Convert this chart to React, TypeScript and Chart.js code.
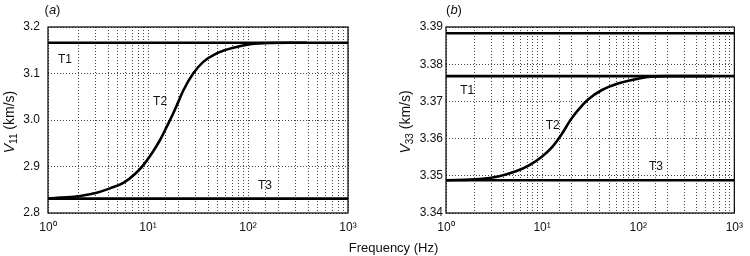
import React, { useEffect, useRef } from 'react';
import { Chart, registerables } from 'chart.js';

Chart.register(...registerables);

const FONT = '"Liberation Sans", Arial, Helvetica, sans-serif';

// ---------- shared ----------
const freqRange = [1, 1000];
const curveNames = ['T1', 'T2', 'T3'];
const xAxisTitle = 'Frequency (Hz)';
const yUnit = ' (km/s)';

// ---------- panel (a) ----------
const yRangeA = [2.8, 3.2];
const yStepA = 0.1;
const t1A = [3.166, 3.166];
const t3A = [2.831, 2.831];
const freqT2A = [1, 1.32, 2.09, 3.07, 4.17, 5.67, 7.41, 8.98, 10.9, 13.2, 15.4, 17.9, 20.1, 22.6, 28.4, 35.7, 48.6, 71.3, 105, 166, 260, 390];
const velT2A = [2.831, 2.833, 2.8366, 2.8437, 2.853, 2.865, 2.884, 2.903, 2.928, 2.957, 2.9856, 3.0144, 3.039, 3.064, 3.1004, 3.125, 3.1434, 3.1555, 3.1628, 3.1656, 3.166, 3.166];
const labelFreqA = [1.48, 13.2, 148];
const labelVelA = [3.1305, 3.039, 2.858];

// ---------- panel (b) ----------
const yRangeB = [3.34, 3.39];
const yStepB = 0.01;
const topLineB = [3.3883, 3.3883];
const t1B = [3.3768, 3.3768];
const t3B = [3.3488, 3.3488];
const freqT2B = [1, 2.24, 3.59, 5.33, 7.31, 10.0, 12.7, 16.1, 19.6, 23.9, 30.3, 41.5, 61.7, 91.6, 126, 200, 590];
const velT2B = [3.3488, 3.3491, 3.3499, 3.3512, 3.3528, 3.3552, 3.3577, 3.3613, 3.3649, 3.3678, 3.3706, 3.373, 3.3748, 3.3759, 3.3766, 3.3768, 3.3768];
const labelFreqB = [1.66, 12.9, 153];
const labelVelB = [3.3728, 3.3636, 3.3524];

const SUP: Record<string, string> = { '0': '⁰', '1': '¹', '2': '²', '3': '³' };

function decadeLabel(value: number): string {
  const e = Math.log10(value);
  const r = Math.round(e);
  if (Math.abs(e - r) < 1e-9) return '10' + String(r).split('').map((c) => SUP[c] ?? c).join('');
  return '';
}

function pts(xs: number[], ys: number[]) {
  return xs.map((x, i) => ({ x, y: ys[i] }));
}

type PanelCfg = {
  tag: string;
  tagX: number;
  sub: string;
  yTitleX: number;
  yWidth: number;
  padRight: number;
  yPad: number;
  yRange: number[];
  yStep: number;
  yDecimals: number;
  lines: { f: number[]; v: number[]; smooth?: boolean }[];
  labelFreq: number[];
  labelVel: number[];
};

function makeDecor(cfg: PanelCfg) {
  return {
    id: 'decor' + cfg.tag,
    afterDraw(chart: any) {
      const { ctx, chartArea: a, scales } = chart;
      ctx.save();
      // frame
      ctx.setLineDash([]);
      ctx.strokeStyle = '#000';
      ctx.lineWidth = 1.2;
      ctx.strokeRect(a.left, a.top, a.right - a.left, a.bottom - a.top);
      // curve labels
      ctx.fillStyle = '#111';
      ctx.font = `12px ${FONT}`;
      ctx.textAlign = 'center';
      ctx.textBaseline = 'middle';
      curveNames.forEach((t, i) => {
        ctx.fillText(t, scales.x.getPixelForValue(cfg.labelFreq[i]), scales.y.getPixelForValue(cfg.labelVel[i]));
      });
      // panel tag "(a)"
      const parts = [
        { t: '(', f: `13px ${FONT}` },
        { t: cfg.tag, f: `italic 13px ${FONT}` },
        { t: ')', f: `13px ${FONT}` },
      ];
      ctx.textAlign = 'left';
      let w = 0;
      parts.forEach((p) => { ctx.font = p.f; w += ctx.measureText(p.t).width; });
      let x = cfg.tagX - w / 2;
      parts.forEach((p) => { ctx.font = p.f; ctx.fillText(p.t, x, 10); x += ctx.measureText(p.t).width; });
      // y title
      const yparts = [
        { t: 'V', f: `italic 14px ${FONT}`, dy: 0 },
        { t: cfg.sub, f: `10px ${FONT}`, dy: 4 },
        { t: yUnit, f: `14px ${FONT}`, dy: 0 },
      ];
      let tw = 0;
      yparts.forEach((p) => { ctx.font = p.f; tw += ctx.measureText(p.t).width; });
      ctx.translate(cfg.yTitleX, (a.top + a.bottom) / 2 + 2);
      ctx.rotate(-Math.PI / 2);
      ctx.textBaseline = 'middle';
      let px = -tw / 2;
      yparts.forEach((p) => { ctx.font = p.f; ctx.fillText(p.t, px, p.dy); px += ctx.measureText(p.t).width; });
      ctx.restore();
    },
  };
}

function Panel({ cfg }: { cfg: PanelCfg }) {
  const ref = useRef<HTMLCanvasElement>(null);
  useEffect(() => {
    if (!ref.current) return;
    const chart = new Chart(ref.current, {
      type: 'scatter',
      data: {
        datasets: cfg.lines.map((l) => ({
          data: pts(l.f, l.v),
          showLine: true,
          borderColor: '#000',
          backgroundColor: '#000',
          borderWidth: 2.6,
          pointRadius: 0,
          fill: false,
          cubicInterpolationMode: l.smooth ? 'monotone' : 'default',
        })),
      },
      options: {
        responsive: false,
        animation: false,
        events: [],
        layout: { padding: { left: 0, right: cfg.padRight, top: 27, bottom: 0 } },
        plugins: { legend: { display: false }, tooltip: { enabled: false }, title: { display: false } },
        scales: {
          x: {
            type: 'logarithmic',
            min: freqRange[0],
            max: freqRange[1],
            afterFit: (s: any) => { s.height = 43; },
            grid: { color: '#444', lineWidth: 1, drawTicks: false },
            border: { display: false, dash: [1, 2] },
            ticks: {
              autoSkip: false,
              maxRotation: 0,
              padding: 7,
              color: '#111',
              font: { family: FONT, size: 12 },
              callback: (v: any) => decadeLabel(Number(v)),
            },
          },
          y: {
            type: 'linear',
            min: cfg.yRange[0],
            max: cfg.yRange[1],
            afterFit: (s: any) => { s.width = cfg.yWidth; },
            grid: { color: '#444', lineWidth: 1, drawTicks: false },
            border: { display: false, dash: [1, 2] },
            ticks: {
              stepSize: cfg.yStep,
              padding: cfg.yPad,
              color: '#111',
              font: { family: FONT, size: 12 },
              callback: (v: any) => Number(v).toFixed(cfg.yDecimals),
            },
          },
        },
      } as any,
      plugins: [makeDecor(cfg)],
    });
    return () => chart.destroy();
  }, [cfg]);
  return <canvas ref={ref} width={375} height={256} style={{ display: 'block', width: 375, height: 256 }} />;
}

const cfgA: PanelCfg = {
  tag: 'a',
  tagX: 52.5,
  sub: '11',
  yTitleX: 10,
  yWidth: 48,
  padRight: 27,
  yPad: 8,
  yRange: yRangeA,
  yStep: yStepA,
  yDecimals: 1,
  lines: [
    { f: freqRange, v: t1A },
    { f: freqRange, v: t3A },
    { f: freqT2A, v: velT2A, smooth: true },
  ],
  labelFreq: labelFreqA,
  labelVel: labelVelA,
};

const cfgB: PanelCfg = {
  tag: 'b',
  tagX: 79,
  sub: '33',
  yTitleX: 31,
  yWidth: 71,
  padRight: 12,
  yPad: 3,
  yRange: yRangeB,
  yStep: yStepB,
  yDecimals: 2,
  lines: [
    { f: freqRange, v: topLineB },
    { f: freqRange, v: t1B },
    { f: freqRange, v: t3B },
    { f: freqT2B, v: velT2B, smooth: true },
  ],
  labelFreq: labelFreqB,
  labelVel: labelVelB,
};

export default function App() {
  return (
    <div style={{ position: 'absolute', left: 0, top: 0, width: 750, height: 256, background: '#fff', overflow: 'hidden' }}>
      <div style={{ position: 'absolute', left: 0, top: 0 }}>
        <Panel cfg={cfgA} />
      </div>
      <div style={{ position: 'absolute', left: 375, top: 0 }}>
        <Panel cfg={cfgB} />
      </div>
      <div
        style={{
          position: 'absolute',
          left: 0,
          top: 240,
          width: 787,
          textAlign: 'center',
          font: `13px ${FONT}`,
          lineHeight: '16px',
          color: '#111',
        }}
      >
        {xAxisTitle}
      </div>
    </div>
  );
}
